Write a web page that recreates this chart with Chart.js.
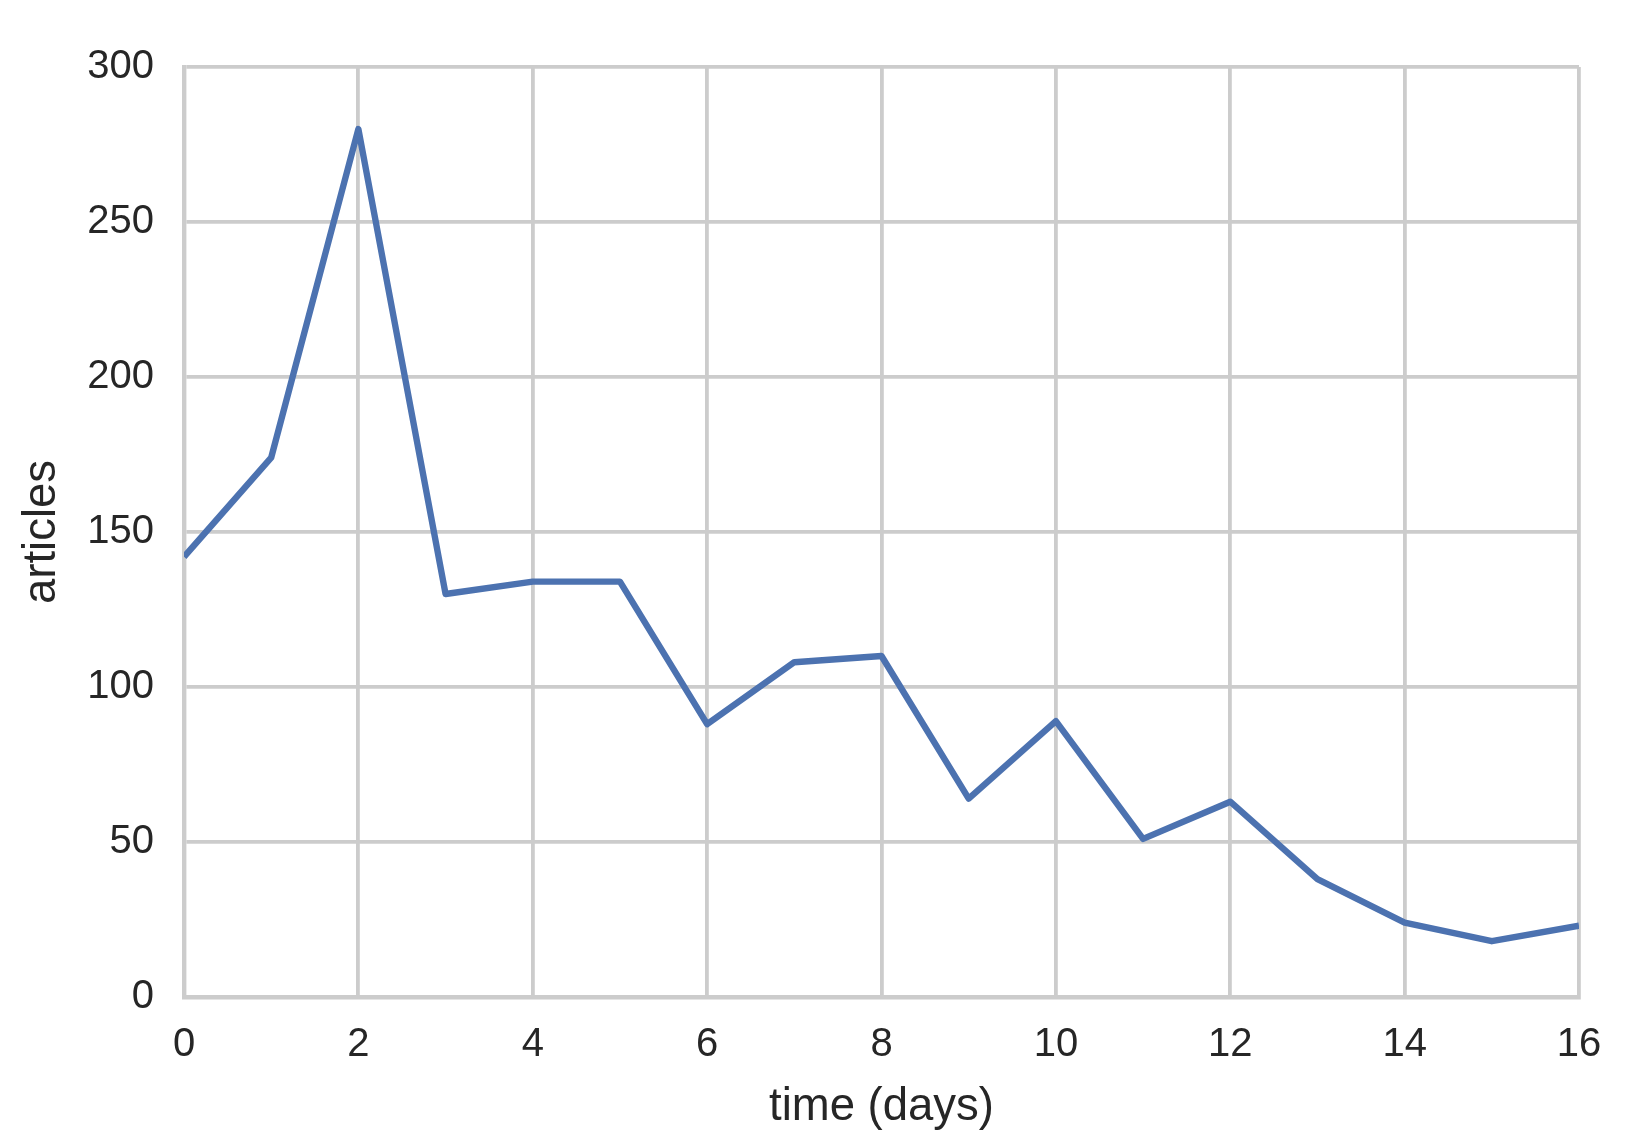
<!DOCTYPE html>
<html>
<head>
<meta charset="utf-8">
<script src="https://cdn.jsdelivr.net/npm/chart.js@4/dist/chart.umd.min.js"></script>
<style>
  html, body { margin: 0; padding: 0; background: #ffffff; }
  #c { display: block; }
</style>
</head>
<body>
<canvas id="c" width="1645" height="1137"></canvas>
<script>
const days = [0, 1, 2, 3, 4, 5, 6, 7, 8, 9, 10, 11, 12, 13, 14, 15, 16];
const articles = [142, 174, 280, 130, 134, 134, 88, 108, 110, 64, 89, 51, 63, 38, 24, 18, 23];
const xTicks = [0, 2, 4, 6, 8, 10, 12, 14, 16];
const yTicks = [0, 50, 100, 150, 200, 250, 300];

const points = days.map((d, i) => ({ x: d, y: articles[i] }));
const FONT = "'Liberation Sans', Arial, sans-serif";
const TEXT = '#262626';
const GRID = '#cccccc';

new Chart(document.getElementById('c'), {
  type: 'line',
  data: {
    datasets: [{
      data: points,
      borderColor: '#4c72b0',
      borderWidth: 6.4,
      pointRadius: 0,
      pointHoverRadius: 0,
      tension: 0,
      fill: false,
      borderJoinStyle: 'round',
      borderCapStyle: 'butt'
    }]
  },
  options: {
    responsive: false,
    animation: false,
    events: [],
    layout: { padding: { left: 0, right: 66, top: 67, bottom: 0 } },
    plugins: { legend: { display: false }, tooltip: { enabled: false } },
    scales: {
      x: {
        type: 'linear',
        min: xTicks[0],
        max: xTicks[xTicks.length - 1],
        afterBuildTicks: (s) => { s.ticks = xTicks.map(v => ({ value: v })); },
        afterFit: (s) => { s.height = 140; },
        grid: { color: GRID, lineWidth: 3.8, drawTicks: false },
        border: { color: GRID, width: 4.4 },
        ticks: { color: TEXT, font: { family: FONT, size: 40 }, padding: 24, maxRotation: 0 },
        title: {
          display: true, text: 'time (days)', color: TEXT,
          font: { family: FONT, size: 45.5, lineHeight: 1.2 },
          padding: { top: 0, bottom: 2 }
        }
      },
      y: {
        type: 'linear',
        min: yTicks[0],
        max: yTicks[yTicks.length - 1],
        afterBuildTicks: (s) => { s.ticks = yTicks.map(v => ({ value: v })); },
        afterFit: (s) => { s.width = 184; },
        grid: { color: GRID, lineWidth: 3.8, drawTicks: false },
        border: { color: GRID, width: 4.4 },
        ticks: { color: TEXT, font: { family: FONT, size: 40 }, padding: 30 },
        title: {
          display: true, text: 'articles', color: TEXT,
          font: { family: FONT, size: 45.5, lineHeight: 1.2 },
          padding: { top: 15, bottom: 0 }
        }
      }
    }
  }
});
</script>
</body>
</html>
